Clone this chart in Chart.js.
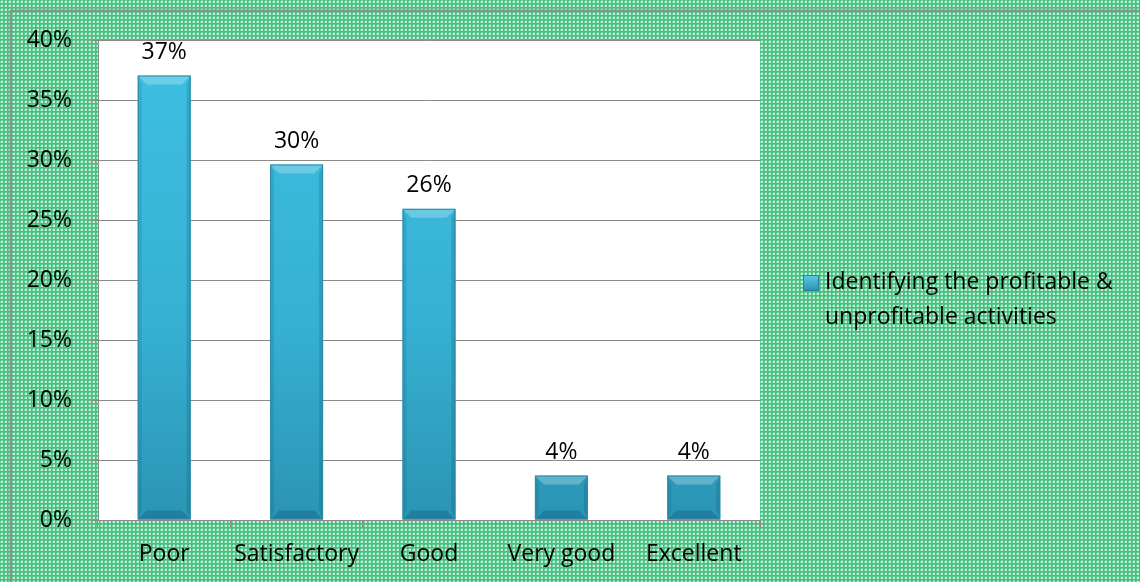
<!DOCTYPE html>
<html>
<head>
<meta charset="utf-8">
<script src="https://cdn.jsdelivr.net/npm/chart.js@4/dist/chart.umd.min.js"></script>
<style>
  html, body { margin:0; padding:0; background:#fff; }
  #wrap { width:1140px; height:582px; }
</style>
</head>
<body>
<div id="wrap"><canvas id="chart" width="1140" height="582"></canvas></div>
<script>
const categories = ['Poor', 'Satisfactory', 'Good', 'Very good', 'Excellent'];
// share of 27 answers
const shares = [37.04, 29.63, 25.93, 3.70, 3.70];
const yTicks = [0, 5, 10, 15, 20, 25, 30, 35, 40];
const seriesName = ['Identifying the profitable &', 'unprofitable activities'];

const FONT = '"Open Sans", Lato, sans-serif';
const FSIZE = 23;
const GRID = '#8a8a8a';

// green checked backdrop
function makePattern(ctx){
  const c = document.createElement('canvas');
  c.width = 4; c.height = 4;
  const p = c.getContext('2d');
  p.fillStyle = '#3fc27e'; p.fillRect(0,0,4,4);
  p.fillStyle = '#c6efd8'; p.fillRect(1,1,2,2);
  p.fillStyle = '#6fd29d'; p.fillRect(0,1,1,2); p.fillRect(1,0,2,1);
  return ctx.createPattern(c, 'repeat');
}

const backdrop = {
  id:'backdrop',
  beforeDraw(chart){
    const {ctx, chartArea:a} = chart;
    ctx.save();
    ctx.fillStyle = makePattern(ctx);
    ctx.fillRect(0,0,chart.width,chart.height);
    ctx.strokeStyle = '#8c8c8c';
    ctx.lineWidth = 1.5;
    ctx.strokeRect(10.5,10.5,chart.width+20,chart.height+20);
    ctx.fillStyle = '#ffffff';
    ctx.fillRect(a.left,a.top,a.right-a.left,a.bottom-a.top);
    ctx.restore();
  }
};

// bevelled edges, value labels and the legend box
const decor = {
  id:'decor',
  afterDatasetsDraw(chart){
    const {ctx} = chart;
    const meta = chart.getDatasetMeta(0);
    ctx.save();
    meta.data.forEach((bar, i) => {
      const w = bar.width, l = bar.x - w/2, r = bar.x + w/2, t = bar.y, b = bar.base;
      const bv = Math.min(9, (b - t)/2);
      // top bevel
      ctx.fillStyle = 'rgba(255,255,255,0.25)';
      ctx.beginPath(); ctx.moveTo(l,t); ctx.lineTo(r,t); ctx.lineTo(r-bv,t+bv); ctx.lineTo(l+bv,t+bv); ctx.closePath(); ctx.fill();
      // right side
      ctx.fillStyle = 'rgba(0,60,90,0.18)';
      ctx.beginPath(); ctx.moveTo(r,t); ctx.lineTo(r,b); ctx.lineTo(r-4,b-bv); ctx.lineTo(r-4,t+bv); ctx.closePath(); ctx.fill();
      // left side
      ctx.fillStyle = 'rgba(0,60,90,0.12)';
      ctx.beginPath(); ctx.moveTo(l,t); ctx.lineTo(l,b); ctx.lineTo(l+4,b-bv); ctx.lineTo(l+4,t+bv); ctx.closePath(); ctx.fill();
      // bottom bevel
      ctx.fillStyle = 'rgba(0,50,80,0.22)';
      ctx.beginPath(); ctx.moveTo(l,b); ctx.lineTo(r,b); ctx.lineTo(r-bv,b-bv); ctx.lineTo(l+bv,b-bv); ctx.closePath(); ctx.fill();
      ctx.strokeStyle = '#2c8aa6';
      ctx.lineWidth = 1;
      ctx.strokeRect(l+0.5,t+0.5,w-1,b-t-1);

      ctx.fillStyle = '#000';
      ctx.font = FSIZE + 'px ' + FONT;
      ctx.textAlign = 'center';
      ctx.textBaseline = 'middle';
      ctx.fillText(Math.round(shares[i]) + '%', bar.x, t - 23);
    });

    // legend
    const lx = 803, ly = 275;
    const g = ctx.createLinearGradient(0, ly, 0, ly+16);
    g.addColorStop(0, '#5ccbe8'); g.addColorStop(1, '#2a8fb0');
    ctx.fillStyle = g;
    ctx.fillRect(lx, ly, 16, 16);
    ctx.strokeStyle = '#2c7f9a';
    ctx.strokeRect(lx+0.5, ly+0.5, 15, 15);
    ctx.fillStyle = '#000';
    ctx.font = FSIZE + 'px ' + FONT;
    ctx.textAlign = 'left';
    ctx.textBaseline = 'middle';
    seriesName.forEach((s, k) => ctx.fillText(s, 825, 282 + k*35));
    ctx.restore();
  }
};

const ctx = document.getElementById('chart').getContext('2d');
new Chart(ctx, {
  type:'bar',
  data:{
    labels: categories,
    datasets:[{
      label: seriesName.join(' '),
      data: shares,
      backgroundColor(c){
        const a = c.chart.chartArea;
        if(!a) return '#3bb8da';
        const g = c.chart.ctx.createLinearGradient(0, a.top, 0, a.bottom);
        g.addColorStop(0, '#3ec0e3');
        g.addColorStop(0.6, '#36b0d2');
        g.addColorStop(1, '#2b94b3');
        return g;
      },
      borderWidth:0,
      barPercentage:0.8,
      categoryPercentage:0.5
    }]
  },
  options:{
    responsive:false,
    animation:false,
    layout:{ padding:{ left:0, top:40, right:380, bottom:0 } },
    plugins:{ legend:{ display:false }, tooltip:{ enabled:false } },
    scales:{
      y:{
        min:0, max:40,
        afterFit(s){ s.width = 98; },
        afterBuildTicks(s){ s.ticks = yTicks.map(v => ({ value:v })); },
        ticks:{ color:'#000', padding:18, font:{ family:FONT, size:FSIZE }, callback:v => v + '%' },
        grid:{ color:GRID, lineWidth:1, tickLength:8 },
        border:{ color:GRID, width:1 }
      },
      x:{
        afterFit(s){ s.height = 62; },
        ticks:{ color:'#000', padding:13, font:{ family:FONT, size:FSIZE } },
        grid:{ offset:true, drawOnChartArea:false, color:GRID, tickLength:8 },
        border:{ color:GRID, width:1 }
      }
    }
  },
  plugins:[backdrop, decor]
});
</script>
</body>
</html>
